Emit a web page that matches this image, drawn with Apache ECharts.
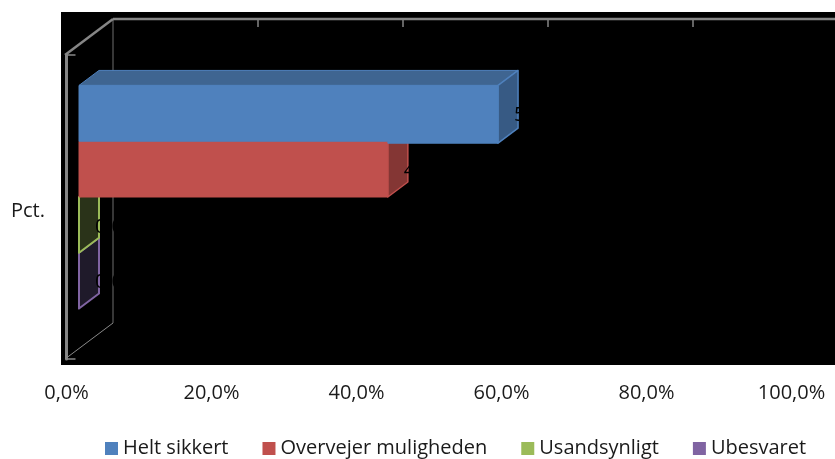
<!DOCTYPE html>
<html>
<head>
<meta charset="utf-8">
<style>
  html, body { margin: 0; padding: 0; background: #fff; }
  #main { width: 835px; height: 459px; }
</style>
<script src="https://cdn.jsdelivr.net/npm/echarts@6/dist/echarts.min.js"></script>
</head>
<body>
<div id="main"></div>
<script>
  var categories = ['Pct.']
  var seriesNames = ['Helt sikkert', 'Overvejer muligheden', 'Usandsynligt', 'Ubesvaret']
  var seriesValues = [57.8, 42.6, 0, 0]
  var seriesLabels = ['57,8%', '42,6%', '0,0%', '0,0%']
  var tickValues = [0, 20, 40, 60, 80, 100]

  var colors = ['#4F81BD', '#C0504D', '#9BBB59', '#8064A2']
  var topColors = ['#3F6591', '#8A3A38', '#2A3319', '#1F1A2A']
  var sideColors = ['#375A84', '#843634', '#2A3319', '#1F1A2A']
  var frontColors = ['#4F81BD', '#C0504D', '#2A3319', '#1F1A2A']

  // 3d offsets of the fake depth, the grid sits axisShift right of the drawn front plane
  var axisShift = 1.5
  var wallDx = 48, wallDy = -36
  var insetDx = 14, insetDy = -10
  var barDx = 20, barDy = -15
  var barShare = 0.1835
  var lip = 2

  function poly(points, fill, stroke, width) {
    return {
      type: 'polygon',
      shape: { points: points },
      style: { fill: fill, stroke: stroke, lineWidth: width, lineJoin: 'round' }
    }
  }

  function line(x1, y1, x2, y2, width, color) {
    return {
      type: 'line',
      shape: { x1: x1, y1: y1, x2: x2, y2: y2 },
      style: { stroke: color, lineWidth: width }
    }
  }

  function renderFrame(params, api) {
    var c = params.coordSys
    var left = c.x - axisShift, top = c.y, bottom = c.y + c.height
    var kids = [
      line(left + wallDx, top + wallDy, left + wallDx, bottom + wallDy, 1, '#6E6E6E'),
      line(left, bottom, left + wallDx, bottom + wallDy, 1, '#8A8A8A'),
      line(left, top, left + wallDx, top + wallDy, 2.5, '#868686'),
      line(left + wallDx, top + wallDy, 835, top + wallDy, 2.5, '#868686')
    ]
    tickValues.forEach(function (t) {
      if (t === 0 || t === 100) return
      var x = api.coord([t, categories[0]])[0] - axisShift + wallDx
      kids.push(line(x, top + wallDy, x, top + wallDy + 8, 1.5, '#868686'))
    })
    return { type: 'group', children: kids }
  }

  function makeBarRender(i) {
    return function (params, api) {
      var p = api.coord([api.value(0), api.value(1)])
      var base = api.coord([0, api.value(1)])
      var band = api.size([0, 1])[1]
      var h = band * barShare
      var x0 = base[0] - axisShift + insetDx
      var x1 = p[0] - axisShift + insetDx
      var y0 = p[1] + insetDy - h * 2 + h * i
      var y1 = y0 + h
      var edge = colors[i]
      var empty = seriesValues[i] === 0
      // the blue bar hangs a little below the top of the shorter red one
      var low = y1
      var front = [[x0, y0], [x1, y0], [x1, y1], [x0, y1]]
      if (i === 0) {
        var next = api.coord([seriesValues[1], api.value(1)])[0] - axisShift + insetDx
        low = y1 + lip
        front = [[x0, y0], [x1, y0], [x1, low], [next, low], [next, y1], [x0, y1]]
      }
      var kids = [
        poly([[x0, y0], [x1, y0], [x1 + barDx, y0 + barDy], [x0 + barDx, y0 + barDy]], topColors[i], edge, 1),
        poly([[x1, y0], [x1 + barDx, y0 + barDy], [x1 + barDx, low + barDy], [x1, low]], sideColors[i], edge, empty ? 2 : 1.5)
      ]
      if (!empty) {
        kids.push(poly(front, frontColors[i], edge, 1))
      }
      kids.push({
        type: 'text',
        style: {
          x: x1 + barDx - 4,
          y: (y0 + y1) / 2 + 2,
          text: seriesLabels[i],
          fill: '#000',
          font: '20px "Open Sans"',
          align: 'left',
          verticalAlign: 'middle'
        }
      })
      return { type: 'group', children: kids }
    }
  }

  var series = [{
    type: 'custom',
    silent: true,
    z: 1,
    data: [[0, categories[0]]],
    renderItem: renderFrame
  }]
  seriesNames.forEach(function (name, i) {
    series.push({
      name: name,
      type: 'custom',
      z: 10 - i,
      itemStyle: { color: colors[i] },
      encode: { x: 0, y: 1 },
      data: [[seriesValues[i], categories[0]]],
      renderItem: makeBarRender(i)
    })
  })

  var chart = echarts.init(document.getElementById('main'))
  chart.setOption({
    animation: false,
    backgroundColor: '#fff',
    textStyle: { fontFamily: '"Open Sans"' },
    graphic: [{
      type: 'rect',
      z: -1,
      silent: true,
      shape: { x: 61, y: 12, width: 774, height: 353 },
      style: { fill: '#000' }
    }],
    grid: { left: 65 + axisShift, top: 55, width: 725, height: 304 },
    xAxis: {
      type: 'value',
      min: 0,
      max: 100,
      interval: 20,
      axisLine: { show: false },
      axisTick: { show: false },
      splitLine: { show: false },
      axisLabel: {
        margin: 24,
        fontSize: 20,
        color: '#1A1A1A',
        formatter: function (v) { return v.toFixed(1).replace('.', ',') + '%' }
      }
    },
    yAxis: {
      type: 'category',
      data: categories,
      offset: axisShift,
      axisLine: { show: true, lineStyle: { color: '#868686', width: 3 } },
      axisTick: { show: true, inside: true, length: 9, lineStyle: { color: '#868686', width: 1.5 } },
      axisLabel: { margin: 20, fontSize: 20, color: '#1A1A1A', verticalAlign: 'top', lineHeight: 8 }
    },
    legend: {
      data: seriesNames,
      left: 100,
      top: 433.5,
      itemWidth: 13,
      itemHeight: 13,
      itemGap: 34,
      icon: 'rect',
      textStyle: { fontSize: 20, color: '#1A1A1A', padding: [4, 0, 0, 0] }
    },
    series: series
  })
</script>
</body>
</html>
